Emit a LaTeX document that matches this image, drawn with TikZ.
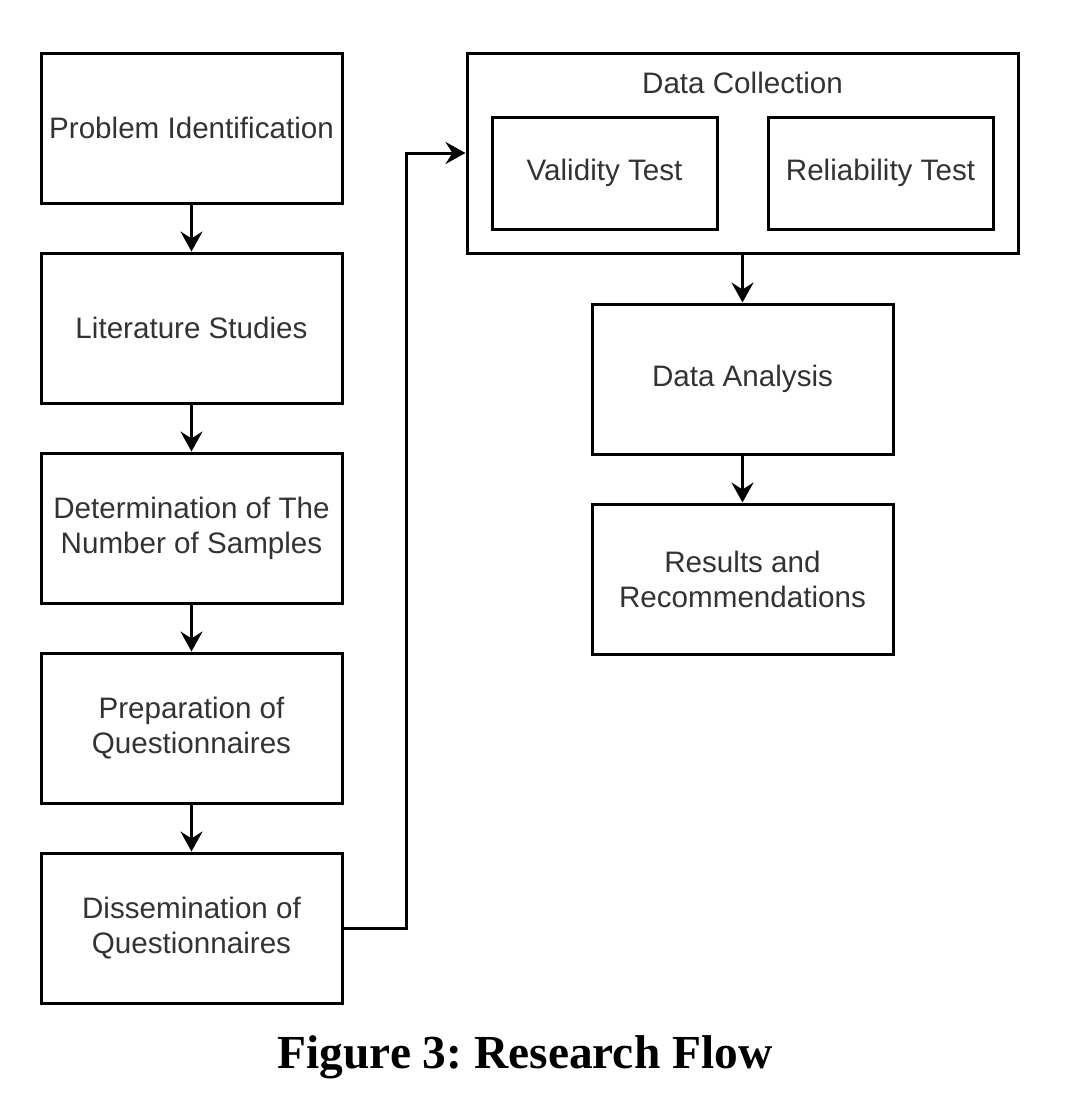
\documentclass[tikz,border=0pt]{standalone}
\usepackage{fontspec}
\setmainfont{Liberation Sans}
\newfontfamily\capfont{Liberation Serif}
\usetikzlibrary{arrows.meta}
\frenchspacing

\begin{document}
\begin{tikzpicture}[x=0.5pt, y=-0.5pt,
    stepbox/.style={draw=black, line width=1.5pt, minimum width=150.5pt, minimum height=75pt,
      align=center, text=black!80, inner sep=0pt, font={\fontsize{14.8}{17.5}\selectfont}},
    testbox/.style={stepbox, minimum width=112.5pt, minimum height=56pt},
    flow/.style={-{Stealth[length=10pt, width=11pt, inset=3.5pt]}, line width=1.5pt}]
        \useasboundingbox (0,0) rectangle (1067,1114);

        % left column
        \node[stepbox] (problem) at (191.5,128) {Problem Identification};
        \node[stepbox] (literature) at (191.5,328) {Literature Studies};
        \node[stepbox] (samples) at (191.5,528) {Determination of The\\Number of Samples};
        \node[stepbox] (preparation) at (191.5,728) {Preparation of\\Questionnaires};
        \node[stepbox] (dissemination) at (191.5,928) {Dissemination of\\Questionnaires};

        \draw[flow] (problem) -- (literature);
        \draw[flow] (literature) -- (samples);
        \draw[flow] (samples) -- (preparation);
        \draw[flow] (preparation) -- (dissemination);

        % right column
        \node[stepbox, minimum width=275.5pt, minimum height=100pt] (collection) at (742.5,153) {};
        \node[black!80, font={\fontsize{14.8}{17.5}\selectfont}] (collectiontitle) at (742.5,83) {Data Collection};
        \node[testbox] (validity) at (604.5,173) {Validity Test};
        \node[testbox] (reliability) at (880.5,173) {Reliability Test};

        \node[stepbox] (analysis) at (742.5,379) {Data Analysis};
        \node[stepbox] (results) at (742.5,579) {Results and\\Recommendations};

        \draw[flow] (dissemination.east) -- ++(63,0) |- (collection.west);
        \draw[flow] (collection) -- (analysis);
        \draw[flow] (analysis) -- (results);

        \node[font={\capfont\bfseries\fontsize{23.7}{28}\selectfont}] (caption) at (525,1057) {Figure 3: Research Flow};
    \end{tikzpicture}
\end{document}
